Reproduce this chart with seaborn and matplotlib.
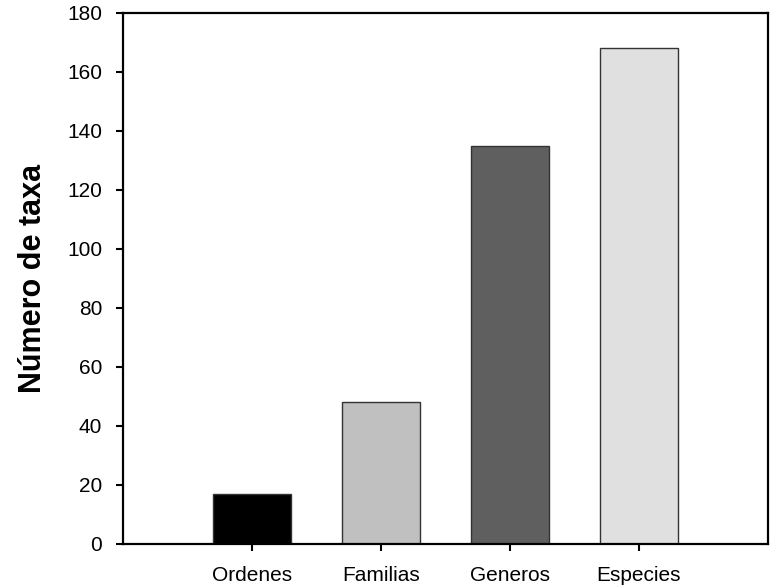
import numpy as np
import pandas as pd
import matplotlib
matplotlib.use('Agg')
import matplotlib.pyplot as plt
import seaborn as sns

# datos
categorias = ['Ordenes', 'Familias', 'Generos', 'Especies']
num_taxa = [17, 48, 135, 168]
colores = ['#000000', '#c0c0c0', '#5f5f5f', '#e0e0e0']

df = pd.DataFrame({'categoria': categorias, 'taxa': num_taxa})

sns.set_style('ticks')
plt.rcParams['font.family'] = ['Liberation Sans', 'DejaVu Sans']

fig = plt.figure(figsize=(7.71, 5.87), dpi=100)
ax = fig.add_axes([0.1595, 0.0733, 0.8365, 0.9047])

sns.barplot(data=df, x='categoria', y='taxa', hue='categoria', palette=colores,
            width=0.6, edgecolor='#333333', linewidth=1, legend=False, ax=ax)

ax.set_xlim(-1, 4)
ax.set_ylim(0, 180)
ax.set_yticks(np.arange(0, 181, 20))
ax.set_xlabel('')
ax.set_ylabel('Número de taxa', fontsize=22, fontweight='bold', color='black',
              labelpad=14)

for s in ax.spines.values():
    s.set_visible(True)
    s.set_linewidth(1.6)
    s.set_color('black')

ax.tick_params(axis='both', direction='out', length=5, width=1.5, colors='black',
               labelsize=15)
ax.tick_params(axis='x', pad=11)
ax.tick_params(axis='y', pad=10)

fig.savefig('out.png', dpi=100)
